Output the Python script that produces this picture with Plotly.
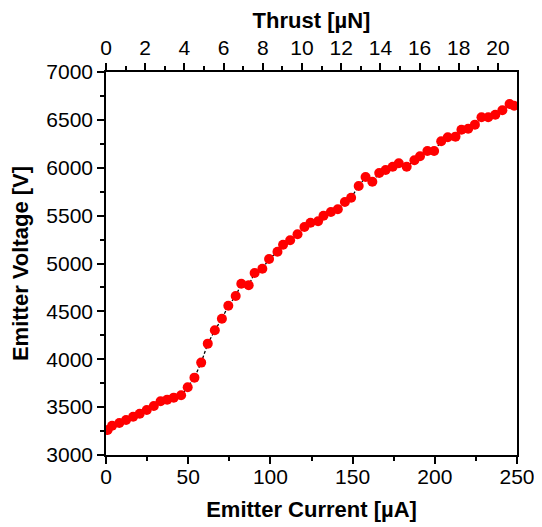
import plotly.graph_objects as go

current_uA = [1.0, 3.7, 8.1, 12.2, 16.5, 20.5, 24.8, 29.1, 33.2, 37.2, 41.2, 45.7, 49.7, 53.8, 57.9,
              61.9, 66.2, 70.5, 74.4, 78.9, 82.3, 86.8, 90.4, 95.1, 99.2, 104.3, 107.7, 112.0, 116.5,
              120.7, 124.4, 129.0, 132.3, 136.8, 141.0, 145.3, 149.1, 153.7, 157.9, 162.0, 166.2,
              170.1, 174.4, 178.1, 182.9, 187.6, 191.0, 195.5, 199.6, 203.9, 207.9, 212.6, 216.2,
              220.3, 224.4, 228.4, 232.5, 236.8, 241.1, 245.5, 248.2]
voltage_V = [3261, 3306, 3334, 3365, 3400, 3431, 3470, 3512, 3561, 3578, 3599, 3624, 3708, 3808, 3965,
             4163, 4302, 4423, 4559, 4660, 4789, 4772, 4901, 4946, 5047, 5123, 5196, 5242, 5305,
             5381, 5426, 5441, 5499, 5538, 5566, 5642, 5686, 5809, 5903, 5854, 5945,
             5977, 6011, 6047, 6011, 6078, 6120, 6175, 6175, 6276, 6318, 6325, 6397,
             6408, 6450, 6527, 6527, 6554, 6600, 6666, 6648]

current_range = [0, 250]
thrust_range = [0, 20.97]
voltage_range = [3000, 7000]

FONT = "Liberation Sans, Arial, sans-serif"
tickfont = dict(family=FONT, size=21, color="black")
titlefont = dict(family=FONT, size=22, color="black", weight="bold")

fig = go.Figure()
fig.add_trace(go.Scatter(
    x=current_uA, y=voltage_V, mode="lines+markers",
    line=dict(color="black", width=1.3, dash="3px,2px"),
    marker=dict(color="#ff0000", size=10, line=dict(width=0)),
    showlegend=False,
))
fig.add_trace(go.Scatter(
    x=[thrust_range[0]], y=[voltage_range[0]], xaxis="x2", mode="markers",
    marker=dict(opacity=0), showlegend=False, hoverinfo="skip",
))

axis_common = dict(showgrid=False, zeroline=False, showline=True, linecolor="black",
                   linewidth=1.5, ticks="outside", ticklen=7, tickwidth=1.5,
                   tickcolor="black", tickfont=tickfont, automargin=False)

fig.update_layout(
    width=534, height=519, autosize=False,
    margin=dict(l=98, r=25, t=64, b=72),
    paper_bgcolor="white", plot_bgcolor="white",
    xaxis=dict(range=current_range, dtick=50, mirror=True, ticklabelstandoff=-5,
               minor=dict(dtick=25, ticks="outside", ticklen=4, tickwidth=1.5, tickcolor="black"),
               title=dict(text="Emitter Current [µA]", font=titlefont),
               **axis_common),
    xaxis2=dict(range=thrust_range, dtick=2, overlaying="x", side="top", anchor="y",
                minor=dict(dtick=1, ticks="outside", ticklen=4, tickwidth=1.5, tickcolor="black"),
                title=dict(text="Thrust [µN]", font=titlefont),
                **axis_common),
    yaxis=dict(range=voltage_range, dtick=500, mirror=True,
               minor=dict(dtick=250, ticks="outside", ticklen=4, tickwidth=1.5, tickcolor="black"),
               title=dict(text="Emitter Voltage [V]", font=titlefont),
               **axis_common),
)

fig.write_html("out.html")
